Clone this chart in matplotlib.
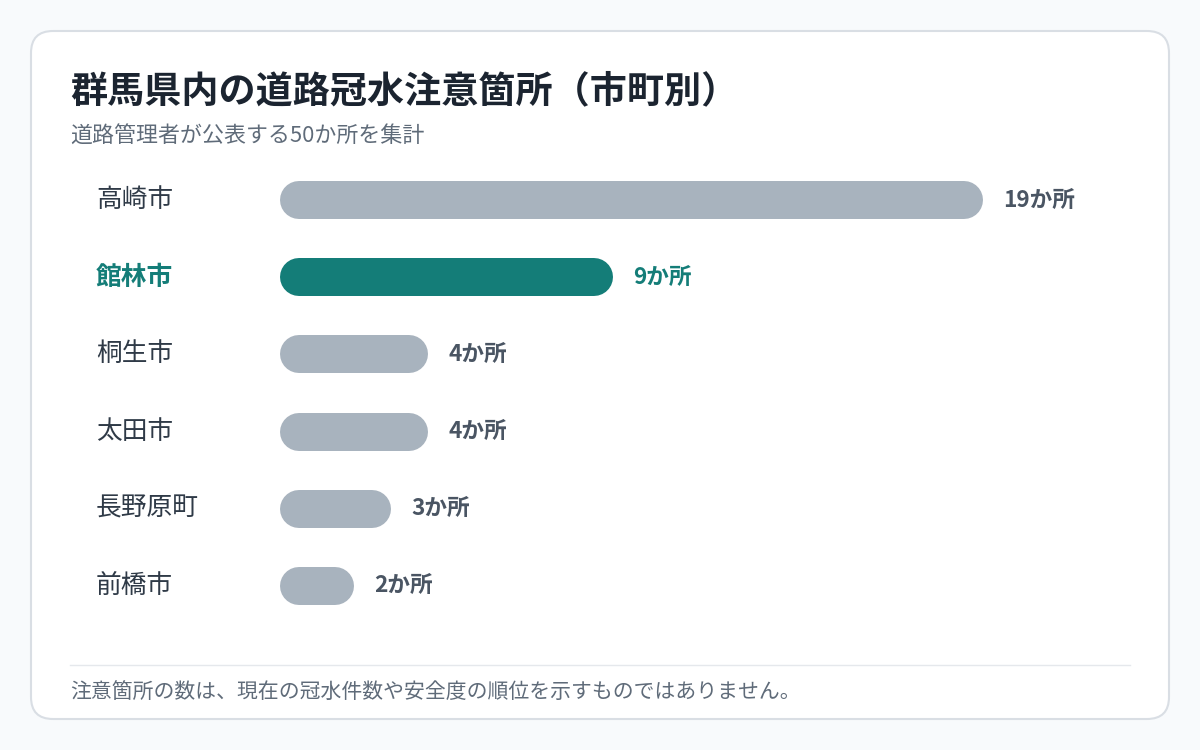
import matplotlib.pyplot as plt
from matplotlib.patches import FancyBboxPatch
from matplotlib.transforms import blended_transform_factory

plt.rcParams['font.family'] = ['Noto Sans CJK JP', 'DejaVu Sans']

# data
cities = ['高崎市', '館林市', '桐生市', '太田市', '長野原町', '前橋市']
counts = [19, 9, 4, 4, 3, 2]
highlight = '館林市'
unit = 'か所'

title = '群馬県内の道路冠水注意箇所（市町別）'
subtitle = '道路管理者が公表する50か所を集計'
note = '注意箇所の数は、現在の冠水件数や安全度の順位を示すものではありません。'

W, H = 1200, 750
DPI = 100
fig = plt.figure(figsize=(12, 7.5), dpi=DPI)
fig.patch.set_facecolor('#f8fafc')

# card
bg = fig.add_axes([0, 0, 1, 1])
bg.set_xlim(0, W)
bg.set_ylim(H, 0)
bg.axis('off')
bg.add_patch(FancyBboxPatch((31, 31), 1138, 688, boxstyle='round,pad=0,rounding_size=22',
                            facecolor='white', edgecolor='#d9dee4', linewidth=1.5))
bg.plot([70, 1130], [665, 665], color='#e5e8ec', lw=1)

bg.text(70, 92, title, fontsize=26.7, fontweight='bold', color='#1b2430', va='center')
bg.text(70, 137, subtitle, fontsize=15.8, color='#5f6b79', va='center')
bg.text(70, 692, note, fontsize=15, color='#5f6b79', va='center')

# bars
ax_left, ax_right = 280, 1130
px_per_unit = 37.0
row_top, row_bot = 161.5, 624.5
ax = fig.add_axes([ax_left / W, 1 - row_bot / H, (ax_right - ax_left) / W, (row_bot - row_top) / H])
ax.set_xlim(0, (ax_right - ax_left) / px_per_unit)
ax.set_ylim(len(cities) - 0.5, -0.5)
ax.axis('off')

bar_px = 38
cap = (bar_px / 2) / px_per_unit  # round cap length in data units
lw_pt = bar_px * 72 / DPI

label_tf = blended_transform_factory(fig.transFigure, ax.transData)
for i, (city, n) in enumerate(zip(cities, counts)):
    hl = city == highlight
    color = '#147d78' if hl else '#a8b3be'
    ax.plot([cap, n - cap], [i, i], color=color, lw=lw_pt, solid_capstyle='round')
    ax.annotate(f'{n}{unit}', xy=(n, i), xytext=(14.5, 0), textcoords='offset points',
                va='center', ha='left', fontsize=16.3, fontweight='bold',
                color='#147d78' if hl else '#4a5563')
    ax.text(96 / W, i, city, transform=label_tf, va='center', ha='left', fontsize=18.5,
            fontweight='bold' if hl else 'normal',
            color='#147d78' if hl else '#2f3a47')

fig.savefig('out.png', dpi=DPI, facecolor=fig.get_facecolor())
